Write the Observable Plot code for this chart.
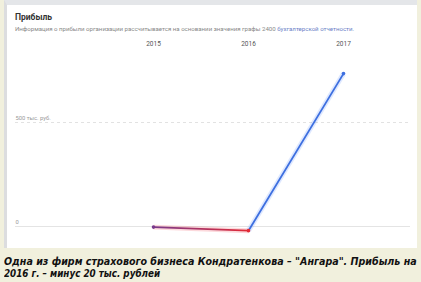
<!DOCTYPE html>
<html><head><meta charset="utf-8">
<script src="https://cdn.jsdelivr.net/npm/d3@7"></script>
<script src="https://cdn.jsdelivr.net/npm/@observablehq/plot@0.6"></script>
<style>
html,body{margin:0;padding:0;background:#f1f0dd;width:421px;height:282px;overflow:hidden;}
#panel{position:absolute;left:4px;top:0;width:410px;height:243px;background:#fff;border-left:3px solid #dcdddf;border-top:5px solid #e4e6e9;font-family:Roboto,sans-serif;}
#title{position:absolute;left:8px;top:7px;font-size:8.5px;font-weight:bold;color:#333;}
#sub{position:absolute;left:8px;top:20px;font-size:6.1px;color:#888;white-space:nowrap;}
#sub span{color:#6b7fc7;}
#chart{position:absolute;left:0;top:30px;}
.cap{position:absolute;left:4px;font-family:"DejaVu Sans",Verdana,sans-serif;font-weight:bold;font-style:italic;font-size:10.6px;line-height:12px;color:#111;white-space:nowrap;transform-origin:0 0;}
#cap1{top:255px;transform:scaleX(0.9);}
#cap2{top:267px;transform:scaleX(0.83);}
</style></head>
<body>
<div id="panel">
<div id="title">Прибыль</div>
<div id="sub">Информация о прибыли организации рассчитывается на основании значения графы 2400 <span>бухгалтерской отчетности.</span></div>
<div id="chart"></div>
</div>
<div id="cap1" class="cap">Одна из фирм страхового бизнеса Кондратенкова – "Ангара". Прибыль на</div>
<div id="cap2" class="cap">2016 г. – минус 20 тыс. рублей</div>
<script>
const years = [2015, 2016, 2017];
const profit = [-3, -20, 735];
const gridValues = [0, 500];
const gridLabels = ["0", "500 тыс. руб."];
const pointColors = ["#7a3a8c", "#e22a36", "#3d6fe0"];

const segs = years.slice(1).map((y, i) => ({x1: years[i], y1: profit[i], x2: y, y2: profit[i + 1], i}));
const segStroke = ["url(#gradA)", "#3d6fe0"];
const segGlow = ["#f05060", "#6a95ff"];
const grid = gridValues.map((v, i) => ({v, label: gridLabels[i], dashed: v !== 0}));

const chart = Plot.plot({
  width: 410, height: 213,
  marginLeft: 8, marginRight: 7, marginTop: 14, marginBottom: 10,
  x: {type: "linear", domain: [2015, 2017], range: [146, 336]},
  y: {type: "linear", domain: [0, 500], range: [191, 87], axis: null},
  style: {fontFamily: "Roboto, sans-serif", background: "transparent"},
  marks: [
    Plot.axisX(years, {anchor: "top", tickSize: 0, tickPadding: 4, tickFormat: d => String(d), fontSize: 6.5, color: "#555", label: null}),
    Plot.ruleY(grid.filter(d => !d.dashed), {y: "v", stroke: "#e4e4e4", strokeWidth: 1, strokeOpacity: 1}),
    Plot.ruleY(grid.filter(d => d.dashed), {y: "v", stroke: "#dadada", strokeDasharray: "3,3", strokeWidth: 0.8, strokeOpacity: 1}),
    Plot.text(grid, {y: "v", text: "label", frameAnchor: "left", textAnchor: "start", dy: -4, fontSize: 5.8, fill: "#999"}),
    Plot.link(segs, {x1: "x1", y1: "y1", x2: "x2", y2: "y2", stroke: d => segGlow[d.i], strokeWidth: 5, strokeOpacity: 0.22}),
    Plot.link(segs, {x1: "x1", y1: "y1", x2: "x2", y2: "y2", stroke: d => segStroke[d.i], strokeWidth: 1.8}),
    Plot.dot(years.map((y, i) => ({y: profit[i], x: y, i})), {x: "x", y: "y", r: 1.8, fill: d => pointColors[d.i], stroke: "none"})
  ]
});
document.getElementById("chart").appendChild(chart);

const xs = chart.scale("x");
const svg = d3.select(chart.tagName === "svg" ? chart : chart.querySelector("svg"));
const defs = svg.insert("defs", ":first-child");
const g = defs.append("linearGradient").attr("id", "gradA").attr("gradientUnits", "userSpaceOnUse")
  .attr("x1", xs.apply(years[0])).attr("x2", xs.apply(years[1])).attr("y1", 0).attr("y2", 0);
g.append("stop").attr("offset", "0%").attr("stop-color", pointColors[0]);
g.append("stop").attr("offset", "100%").attr("stop-color", pointColors[1]);
</script>
</body></html>
